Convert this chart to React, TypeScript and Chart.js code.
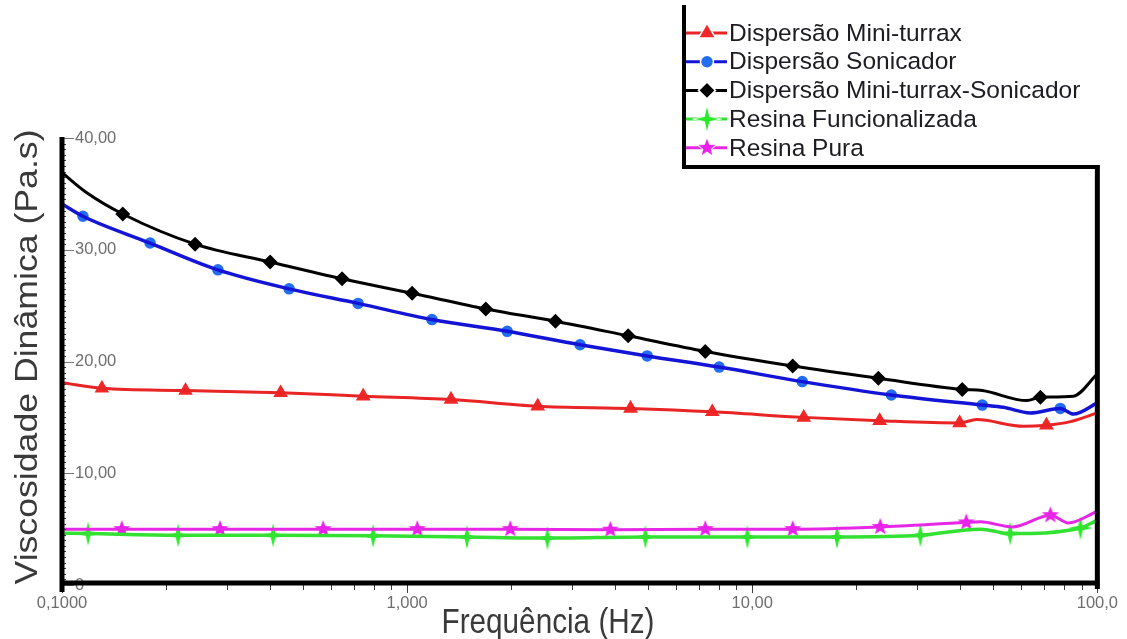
import React, { useEffect, useRef } from "react";
import { Chart, registerables } from "chart.js";

Chart.register(...registerables);

const X_TICK_VALUES = [0.1, 1, 10, 100];
const X_TICK_LABELS = ["0,1000", "1,000", "10,00", "100,0"];
const Y_TICK_VALUES = [0, 10, 20, 30, 40];
const Y_TICK_LABELS = ["0", "10,00", "20,00", "30,00", "40,00"];
const X_TITLE = "Frequência (Hz)";
const Y_TITLE = "Viscosidade Dinâmica (Pa.s)";
const SERIES_NAMES = [
  "Dispersão Mini-turrax",
  "Dispersão Sonicador",
  "Dispersão Mini-turrax-Sonicador",
  "Resina Funcionalizada",
  "Resina Pura",
];

// Dispersão Mini-turrax
const turraxMarkFreq = [0.1305, 0.228, 0.43, 0.746, 1.34, 2.39, 4.44, 7.66, 14.1, 23.4, 39.9, 71.2];
const turraxMarkVisc = [17.6, 17.4, 17.2, 16.9, 16.6, 16.0, 15.8, 15.5, 15.0, 14.7, 14.5, 14.3];
const turraxCurveFreq = [0.1, 44.7, 61.1, 83.0, 100];
const turraxCurveVisc = [18.1, 14.8, 14.2, 14.6, 15.4];

// Dispersão Sonicador
const sonicMarkFreq = [0.115, 0.18, 0.283, 0.455, 0.721, 1.18, 1.95, 3.17, 4.96, 8.02, 13.96, 25.3, 46.4, 78.1];
const sonicMarkVisc = [33.0, 30.6, 28.2, 26.5, 25.2, 23.75, 22.7, 21.5, 20.5, 19.5, 18.2, 17.0, 16.1, 15.8];
const sonicCurveFreq = [0.1, 53.4, 63.9, 85.2, 100];
const sonicCurveVisc = [34.1, 15.9, 15.4, 15.3, 16.3];

// Dispersão Mini-turrax-Sonicador
const bothMarkFreq = [0.15, 0.243, 0.401, 0.648, 1.034, 1.69, 2.69, 4.37, 7.31, 13.1, 23.2, 40.6, 68.4];
const bothMarkVisc = [33.2, 30.5, 28.9, 27.4, 26.1, 24.7, 23.6, 22.3, 20.9, 19.6, 18.5, 17.5, 16.8];
const bothCurveFreq = [0.1, 0.118, 46.4, 62.5, 85.2, 100];
const bothCurveVisc = [36.9, 35.1, 17.4, 16.5, 16.9, 18.9];

// Resina Funcionalizada
const funcMarkFreq = [0.119, 0.217, 0.409, 0.797, 1.49, 2.55, 4.9, 9.68, 17.6, 30.7, 55.9, 89.3];
const funcMarkVisc = [4.6, 4.45, 4.45, 4.4, 4.3, 4.2, 4.3, 4.3, 4.3, 4.45, 4.6, 5.1];
const funcCurveFreq = [0.1, 45.8, 100];
const funcCurveVisc = [4.64, 5.0, 5.8];

// Resina Pura
const pureMarkFreq = [0.149, 0.287, 0.571, 1.07, 1.99, 3.88, 7.31, 13.1, 23.5, 41.7, 73.1];
const pureMarkVisc = [5.0, 5.0, 5.0, 5.0, 5.0, 4.95, 5.0, 5.0, 5.2, 5.6, 6.25];
const pureCurveFreq = [0.1, 45.8, 56.7, 82.4, 100];
const pureCurveVisc = [5.0, 5.65, 5.2, 5.55, 6.6];

const FONT = "'Liberation Sans', Arial, sans-serif";

function points(f: number[], v: number[]) {
  return f.map((x, i) => ({ x, y: v[i] }));
}
function merged(mf: number[], mv: number[], cf: number[], cv: number[]) {
  return [...points(mf, mv), ...points(cf, cv)].sort((a, b) => a.x - b.x);
}

function makeStar(n: number, outer: number, inner: number, color: string) {
  const size = Math.ceil(outer * 2 + 6);
  const c = document.createElement("canvas");
  c.width = size;
  c.height = size;
  const ctx = c.getContext("2d")!;
  ctx.translate(size / 2, size / 2);
  ctx.beginPath();
  for (let i = 0; i < n * 2; i++) {
    const r = i % 2 === 0 ? outer : inner;
    const a = -Math.PI / 2 + (i * Math.PI) / n;
    ctx.lineTo(r * Math.cos(a), r * Math.sin(a));
  }
  ctx.closePath();
  ctx.strokeStyle = "#ffffff";
  ctx.lineWidth = 2;
  ctx.stroke();
  ctx.fillStyle = color;
  ctx.fill();
  return c;
}

function drawMarker(ctx: CanvasRenderingContext2D, style: any, r: number, fill: string, x: number, y: number) {
  if (typeof style !== "string") {
    ctx.drawImage(style, x - style.width / 2, y - style.height / 2);
    return;
  }
  ctx.beginPath();
  if (style === "circle") {
    ctx.arc(x, y, r, 0, Math.PI * 2);
  } else if (style === "triangle") {
    for (let i = 0; i < 3; i++) {
      const a = (i * 2 * Math.PI) / 3;
      ctx.lineTo(x + Math.sin(a) * r, y - Math.cos(a) * r);
    }
    ctx.closePath();
  } else {
    ctx.moveTo(x - r, y);
    ctx.lineTo(x, y - r);
    ctx.lineTo(x + r, y);
    ctx.lineTo(x, y + r);
    ctx.closePath();
  }
  ctx.fillStyle = fill;
  ctx.fill();
  ctx.strokeStyle = "#ffffff";
  ctx.lineWidth = 1.5;
  ctx.stroke();
}

export default function App() {
  const ref = useRef<HTMLCanvasElement>(null);

  useEffect(() => {
    const canvas = ref.current!;
    const greenStar = makeStar(4, 12, 3.2, "rgb(40,235,40)");
    const pinkStar = makeStar(5, 9, 3.8, "rgb(235,30,235)");

    const series = [
      { name: SERIES_NAMES[0], curve: merged(turraxMarkFreq, turraxMarkVisc, turraxCurveFreq, turraxCurveVisc), marks: points(turraxMarkFreq, turraxMarkVisc), line: "rgb(232,36,36)", fill: "rgb(242,40,40)", width: 3, point: "triangle" as any, radius: 10 },
      { name: SERIES_NAMES[1], curve: merged(sonicMarkFreq, sonicMarkVisc, sonicCurveFreq, sonicCurveVisc), marks: points(sonicMarkFreq, sonicMarkVisc), line: "rgb(20,20,215)", fill: "rgb(35,110,240)", width: 3.5, point: "circle" as any, radius: 6.5 },
      { name: SERIES_NAMES[2], curve: merged(bothMarkFreq, bothMarkVisc, bothCurveFreq, bothCurveVisc), marks: points(bothMarkFreq, bothMarkVisc), line: "#000000", fill: "#000000", width: 3, point: "rectRot" as any, radius: 8.5 },
      { name: SERIES_NAMES[3], curve: merged(funcMarkFreq, funcMarkVisc, funcCurveFreq, funcCurveVisc), marks: points(funcMarkFreq, funcMarkVisc), line: "rgb(50,225,50)", fill: "rgb(40,235,40)", width: 3.5, point: greenStar as any, radius: 8 },
      { name: SERIES_NAMES[4], curve: merged(pureMarkFreq, pureMarkVisc, pureCurveFreq, pureCurveVisc), marks: points(pureMarkFreq, pureMarkVisc), line: "rgb(230,40,230)", fill: "rgb(235,30,235)", width: 3, point: pinkStar as any, radius: 8 },
    ];

    const datasets: any[] = [
      ...series.map((s) => ({
        label: s.name,
        data: s.curve,
        borderColor: s.line,
        borderWidth: s.width,
        pointRadius: 0,
        cubicInterpolationMode: "monotone",
        fill: false,
      })),
      ...series.map((s) => ({
        label: s.name + " (marcadores)",
        data: s.marks,
        showLine: false,
        pointStyle: s.point,
        pointRadius: s.radius,
        pointBackgroundColor: s.fill,
        pointBorderColor: "#ffffff",
        pointBorderWidth: 1.5,
        clip: false,
      })),
    ];

    const decor = {
      id: "decor",
      afterDraw(chart: any) {
        const ctx: CanvasRenderingContext2D = chart.ctx;
        const xs = chart.scales.x;
        const ys = chart.scales.y;
        const { left, right, bottom } = chart.chartArea;
        ctx.save();
        ctx.lineWidth = 1;
        for (let v = 0; v <= 40.001; v += 0.5) {
          const y = Math.round(ys.getPixelForValue(v)) + 0.5;
          const major = Math.abs(v % 10) < 0.001;
          ctx.strokeStyle = major ? "#777" : "#3a3a3a";
          ctx.beginPath();
          ctx.moveTo(left, y);
          ctx.lineTo(left + (major ? 12 : 4), y);
          ctx.stroke();
        }
        ctx.strokeStyle = "#3a3a3a";
        for (let d = 0.1; d < 100; d *= 10) {
          for (let k = 1; k <= 10; k++) {
            const x = Math.round(xs.getPixelForValue(d * k)) + 0.5;
            const major = k === 1 || k === 10;
            ctx.beginPath();
            ctx.moveTo(x, bottom);
            ctx.lineTo(x, bottom + (major ? 8 : 5));
            ctx.stroke();
          }
        }
        ctx.strokeStyle = "#000000";
        ctx.lineWidth = 5;
        ctx.beginPath();
        ctx.moveTo(left, 137);
        ctx.lineTo(left, bottom + 7);
        ctx.stroke();
        ctx.beginPath();
        ctx.moveTo(left - 2, bottom - 2);
        ctx.lineTo(right + 2, bottom - 2);
        ctx.stroke();
        ctx.beginPath();
        ctx.moveTo(right, 165);
        ctx.lineTo(right, bottom + 4);
        ctx.stroke();
        ctx.lineWidth = 4;
        ctx.beginPath();
        ctx.moveTo(684, 5);
        ctx.lineTo(684, 167);
        ctx.lineTo(right + 2, 167);
        ctx.stroke();
        series.forEach((s, i) => {
          const y = 33 + i * 28.7;
          ctx.strokeStyle = s.line;
          ctx.lineWidth = 3;
          ctx.beginPath();
          ctx.moveTo(686, y);
          ctx.lineTo(727, y);
          ctx.stroke();
          drawMarker(ctx, s.point, s.radius, s.fill, 707, y);
          ctx.fillStyle = "#1c1c22";
          ctx.font = `24.5px ${FONT}`;
          ctx.textAlign = "left";
          ctx.textBaseline = "middle";
          ctx.fillText(s.name, 729, y + 1);
        });
        ctx.fillStyle = "#3a3a3a";
        ctx.font = `35px ${FONT}`;
        ctx.textAlign = "center";
        ctx.textBaseline = "alphabetic";
        let w = ctx.measureText(X_TITLE).width;
        ctx.save();
        ctx.translate(548, 633);
        ctx.scale(213 / w, 1);
        ctx.fillText(X_TITLE, 0, 0);
        ctx.restore();
        w = ctx.measureText(Y_TITLE).width;
        ctx.save();
        ctx.translate(37, 357);
        ctx.rotate(-Math.PI / 2);
        ctx.scale(455 / w, 0.88);
        ctx.fillText(Y_TITLE, 0, 0);
        ctx.restore();
        ctx.restore();
      },
    };

    const chart = new Chart(canvas, {
      type: "line",
      data: { datasets },
      options: {
        responsive: false,
        animation: false,
        layout: { padding: { top: 138, right: 29, left: 0, bottom: 0 } },
        plugins: { legend: { display: false }, tooltip: { enabled: false } },
        scales: {
          x: {
            type: "logarithmic",
            min: 0.1,
            max: 100,
            afterBuildTicks: (s: any) => {
              s.ticks = X_TICK_VALUES.map((v) => ({ value: v }));
            },
            afterFit: (s: any) => {
              s.height = 54;
            },
            grid: { display: false, drawTicks: false },
            border: { display: false },
            ticks: {
              autoSkip: false,
              maxRotation: 0,
              padding: 9,
              color: "#6e6e6e",
              font: { family: FONT, size: 16.5 },
              callback: (_v: any, i: number) => X_TICK_LABELS[i],
            },
          },
          y: {
            type: "linear",
            min: 0,
            max: 40,
            afterBuildTicks: (s: any) => {
              s.ticks = Y_TICK_VALUES.map((v) => ({ value: v }));
            },
            afterFit: (s: any) => {
              s.width = 62;
            },
            grid: { display: false, drawTicks: false },
            border: { display: false },
            ticks: {
              mirror: true,
              padding: 13,
              color: "#6e6e6e",
              font: { family: FONT, size: 16.5 },
              callback: (_v: any, i: number) => Y_TICK_LABELS[i],
            },
          },
        },
      } as any,
      plugins: [decor],
    });
    return () => chart.destroy();
  }, []);

  return (
    <div style={{ position: "absolute", left: 0, top: 0, width: 1127, height: 639, background: "#fff" }}>
      <canvas ref={ref} width={1127} height={639} style={{ display: "block" }} />
    </div>
  );
}
